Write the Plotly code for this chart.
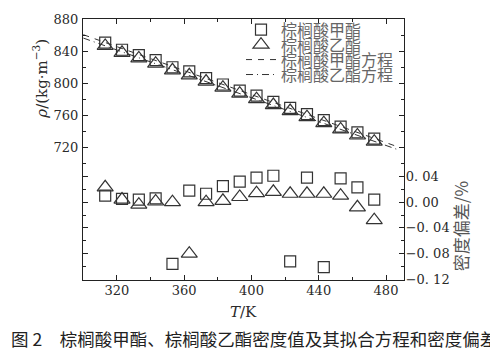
import plotly.graph_objects as go

# ---------------- data ----------------
T = [313, 323, 333, 343, 353, 363, 373, 383, 393, 403, 413, 423, 433, 443, 453, 463, 473]
rho_methyl = [850.6, 841.8, 835.1, 828.8, 820.0, 814.8, 806.5, 798.6, 791.0, 784.8, 777.1, 769.6, 761.8, 754.3, 746.3, 739.0, 731.2]
rho_ethyl = [846.5, 838.0, 831.0, 824.5, 816.2, 810.0, 802.2, 794.6, 787.2, 780.4, 773.0, 765.6, 758.0, 750.5, 742.7, 735.2, 727.6]
dev_methyl = [0.010, 0.005, 0.004, 0.006, -0.096, 0.018, 0.013, 0.025, 0.032, 0.038, 0.041, -0.092, 0.038, -0.101, 0.037, 0.023, 0.004]
dev_ethyl = [0.023, 0.004, -0.004, 0.001, 0.000, -0.080, 0.000, 0.002, 0.008, 0.014, 0.016, 0.013, 0.013, 0.013, 0.010, -0.008, -0.028]
fit_T = [300, 486.5]
fit_methyl = [860.5, 721.5]
fit_ethyl = [856.3, 718.0]

x_ticks = [320, 360, 400, 440, 480]
rho_ticks = [720, 760, 800, 840, 880]
dev_ticks = [-0.12, -0.08, -0.04, 0.00, 0.04]
dev_ticklabels = ["\u22120. 12", "\u22120. 08", "\u22120. 04", "0. 00", "0. 04"]

names = ["棕榈酸甲酯", "棕榈酸乙酯", "棕榈酸甲酯方程", "棕榈酸乙酯方程"]

# ---------------- figure ----------------
SERIF = "DejaVu Serif"
CJK = "Noto Sans CJK SC"
INK = "#2a2a2a"
MK = "#333333"

# page body has an 8px default margin: the figure is shifted by (8, 8)
OFF = 8
PW, PH = 321, 267          # plot area size (px)
PL, PT = 83, 13            # plot area top-left in the screenshot

def px(x):
    return (x - PL) / PW

def py(y):
    return 1 - (y - PT) / PH

fig = go.Figure()

fig.add_trace(go.Scatter(x=T, y=rho_methyl, mode="markers", name=names[0], legend="legend",
                         marker=dict(symbol="square-open", size=11, color=MK, line=dict(width=1.2, color=MK))))
fig.add_trace(go.Scatter(x=T, y=rho_ethyl, mode="markers", name=names[1], legend="legend2",
                         marker=dict(symbol="triangle-up-open", size=14, color=MK, line=dict(width=1.2, color=MK))))
fig.add_trace(go.Scatter(x=fit_T, y=fit_methyl, mode="lines", name=names[2], legend="legend3",
                         line=dict(color=MK, width=1, dash="6px,6px")))
fig.add_trace(go.Scatter(x=fit_T, y=fit_ethyl, mode="lines", name=names[3], legend="legend4",
                         line=dict(color=MK, width=1, dash="7px,4px,1px,4px")))

fig.add_trace(go.Scatter(x=T, y=dev_methyl, mode="markers", yaxis="y2", showlegend=False,
                         marker=dict(symbol="square-open", size=11, color=MK, line=dict(width=1.2, color=MK))))
fig.add_trace(go.Scatter(x=T, y=dev_ethyl, mode="markers", yaxis="y2", showlegend=False,
                         marker=dict(symbol="triangle-up-open", size=14, color=MK, line=dict(width=1.2, color=MK))))

axis_common = dict(showline=True, linecolor="#222", linewidth=1.2, ticks="inside", ticklen=5,
                   tickcolor="#222", tickwidth=1, showgrid=False, zeroline=False, automargin=False,
                   tickfont=dict(family=SERIF, size=13, color=INK))

fig.update_layout(
    template="none",
    font=dict(family=SERIF),
    width=498 - OFF, height=363 - OFF,
    margin=dict(l=PL - OFF, r=498 - OFF - (PL - OFF) - PW, t=PT - OFF, b=363 - OFF - (PT - OFF) - PH),
    paper_bgcolor="white", plot_bgcolor="white",
    xaxis=dict(range=[299.8, 490.7], tickvals=x_ticks, mirror="ticks", ticklabelstandoff=-2,
               minor=dict(tickvals=[300, 340, 380, 420, 460], ticks="inside", ticklen=3, tickcolor="#222"),
               **axis_common),
    yaxis=dict(range=[555.6, 880], tickvals=rho_ticks, mirror="ticks", ticklabelstandoff=1,
               minor=dict(tickvals=[740, 780, 820, 860], ticks="inside", ticklen=3, tickcolor="#222"),
               **axis_common),
    yaxis2=dict(range=[-0.121, 0.2846], overlaying="y", side="right", anchor="x",
                tickvals=dev_ticks, ticktext=dev_ticklabels, mirror="ticks", ticklabelstandoff=-2,
                minor=dict(tickvals=[-0.10, -0.06, -0.02, 0.02, 0.06], ticks="inside", ticklen=3, tickcolor="#222"),
                **axis_common),
    showlegend=True,
)

leg_common = dict(x=px(241), xanchor="left", yanchor="middle", bgcolor="rgba(0,0,0,0)",
                  borderwidth=0, font=dict(family=CJK, size=16, color="#666"), itemwidth=30)
fig.update_layout(
    legend=dict(y=py(24), **leg_common),
    legend2=dict(y=py(39.3), **leg_common),
    legend3=dict(y=py(54.6), **leg_common),
    legend4=dict(y=py(69.9), **leg_common),
)

fig.add_annotation(text="<i>ρ</i>/(kg·m<sup>−3</sup>)", xref="paper", yref="paper",
                   x=px(40), y=py(74), textangle=-90, showarrow=False,
                   font=dict(family=SERIF, size=15, color=INK), xanchor="center", yanchor="middle")
fig.add_annotation(text="密度偏差/%", xref="paper", yref="paper",
                   x=px(460), y=py(225), textangle=-90, showarrow=False,
                   font=dict(family=CJK, size=17, color="#555"), xanchor="center", yanchor="middle")
fig.add_annotation(text="<i>T</i>/K", xref="paper", yref="paper",
                   x=px(244), y=py(313), showarrow=False,
                   font=dict(family=SERIF, size=15, color=INK), xanchor="center", yanchor="middle")
fig.add_annotation(text="图 2\u3000棕榈酸甲酯、棕榈酸乙酯密度值及其拟合方程和密度偏差",
                   xref="paper", yref="paper",
                   x=px(9), y=py(340), showarrow=False,
                   font=dict(family=CJK, size=17.5, color="#222"), xanchor="left", yanchor="middle")

fig.write_html("out.html")
